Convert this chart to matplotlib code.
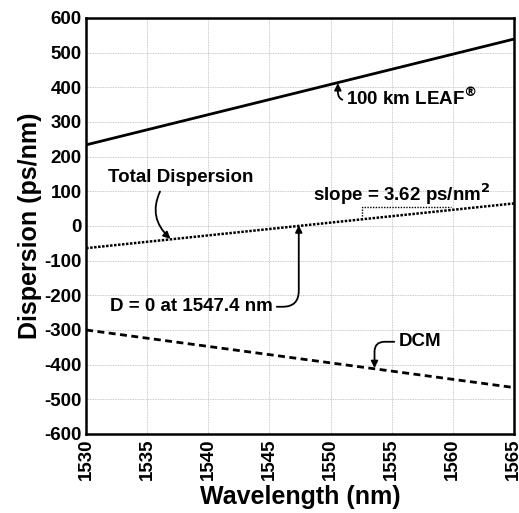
import matplotlib as mpl

mpl.use('Agg')
import matplotlib.pyplot as plt

# wavelength end points (nm) and dispersion values (ps/nm)
wavelength = [1530, 1565]
leaf = [234, 539]
total = [-64, 65]
dcm = [-300, -466]

x_ticks = [1530, 1535, 1540, 1545, 1550, 1555, 1560, 1565]
y_ticks = [-600, -500, -400, -300, -200, -100, 0, 100, 200, 300, 400, 500, 600]

plt.rcParams['font.family'] = ['Liberation Sans', 'DejaVu Sans']
plt.rcParams['font.weight'] = 'bold'

fig = plt.figure(figsize=(5.19, 5.13), dpi=100)
ax = fig.add_axes([0.166, 0.154, 0.824, 0.811])

ax.plot(wavelength, leaf, color='black', lw=2.0, solid_capstyle='butt')
ax.plot(wavelength, total, color='black', lw=1.8, linestyle=(0, (1, 0.6)))
ax.plot(wavelength, dcm, color='black', lw=2.0, linestyle=(0, (2.5, 1.6)))

ax.set_xlim(1530, 1565)
ax.set_ylim(-600, 600)
ax.set_xticks(x_ticks)
ax.set_yticks(y_ticks)
ax.set_xticklabels([str(t) for t in x_ticks], rotation=90, fontsize=13.5,
                   fontweight='bold')
ax.set_yticklabels([str(t) for t in y_ticks], fontsize=13.5, fontweight='bold')
ax.tick_params(length=0, pad=3)
ax.grid(True, color='#b8b8b8', lw=0.6, linestyle=(0, (1, 1)))
for sp in ax.spines.values():
    sp.set_linewidth(1.8)

ax.set_xlabel('Wavelength (nm)', fontsize=18, fontweight='bold', labelpad=4)
ax.set_ylabel('Dispersion (ps/nm)', fontsize=18, fontweight='bold', labelpad=2)

arrow = dict(arrowstyle='-|>', color='black', lw=1.3, mutation_scale=10,
             shrinkA=1, shrinkB=0)
fs = 13.5

# 100 km LEAF
ax.annotate('100 km LEAF$^{\\circledR}$', xy=(1550.6, 412), xytext=(1551.3, 368),
            fontsize=fs, fontweight='bold', ha='left', va='center',
            arrowprops=dict(arrow, relpos=(0, 0.4),
                            connectionstyle='angle,angleA=180,angleB=90,rad=9'))

# Total Dispersion
ax.annotate('Total Dispersion', xy=(1536.9, -37), xytext=(1537.7, 139),
            fontsize=fs, fontweight='bold', ha='center', va='center',
            arrowprops=dict(arrow, relpos=(0.38, 0),
                            connectionstyle='arc3,rad=0.4', shrinkA=2))

# slope bracket
ax.plot([1552.6, 1552.6, 1559.9], [29, 56, 56], color='black', lw=1.0,
        linestyle=(0, (1, 1)))
ax.text(1555.8, 92, 'slope = 3.62 ps/nm$^{\\mathbf{2}}$', fontsize=fs,
        fontweight='bold', ha='center', va='center')

# D = 0
ax.annotate('D = 0 at 1547.4 nm', xy=(1547.4, 2), xytext=(1538.6, -233),
            fontsize=fs, fontweight='bold', ha='center', va='center',
            arrowprops=dict(arrow, relpos=(1, 0.5),
                            connectionstyle='angle,angleA=0,angleB=90,rad=16'))

# DCM
ax.annotate('DCM', xy=(1553.6, -410), xytext=(1557.3, -334),
            fontsize=fs, fontweight='bold', ha='center', va='center',
            arrowprops=dict(arrow, relpos=(0, 0.5),
                            connectionstyle='angle,angleA=180,angleB=90,rad=10'))

plt.savefig('out.png', dpi=100)
